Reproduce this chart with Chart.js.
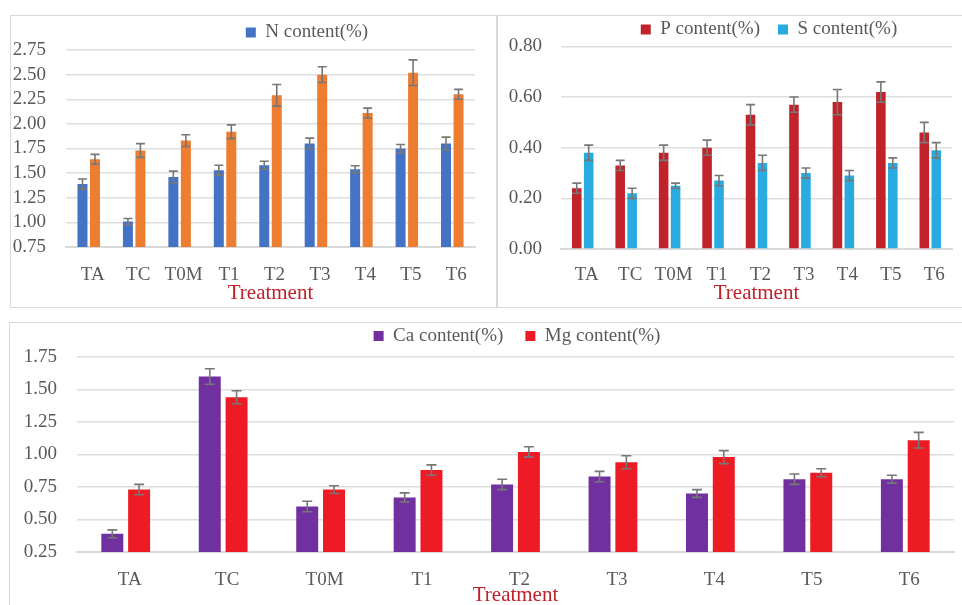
<!DOCTYPE html>
<html>
<head>
<meta charset="utf-8">
<script src="https://cdn.jsdelivr.net/npm/chart.js@4.4.0/dist/chart.umd.min.js"></script>
<style>
body { margin:0; width:962px; height:605px; overflow:hidden; background:#fff; position:relative; }
.panel { position:absolute; border:1px solid #d9d9d9; box-sizing:border-box; background:#fff; }
.panel canvas { position:absolute; left:0; top:0; }
</style>
</head>
<body>
<div class="panel" style="left:10px;top:15px;width:487px;height:293px"><canvas id="c1" width="485" height="291"></canvas></div>
<div class="panel" style="left:497px;top:15px;width:466px;height:293px"><canvas id="c2" width="464" height="291"></canvas></div>
<div class="panel" style="left:9px;top:322px;width:954px;height:290px"><canvas id="c3" width="952" height="282"></canvas></div>
<script>
var treatments = ['TA', 'TC', 'T0M', 'T1', 'T2', 'T3', 'T4', 'T5', 'T6'];

// N panel (second series has no legend entry in the original)
var nContent = [1.39, 1.01, 1.46, 1.53, 1.58, 1.80, 1.54, 1.75, 1.80];
var nError   = [0.05, 0.03, 0.06, 0.05, 0.04, 0.055, 0.035, 0.04, 0.065];
var nOther   = [1.64, 1.73, 1.83, 1.92, 2.29, 2.50, 2.11, 2.52, 2.30];
var nOtherError = [0.05, 0.07, 0.06, 0.07, 0.11, 0.08, 0.05, 0.13, 0.05];

// P and S panel
var pContent = [0.24, 0.33, 0.38, 0.40, 0.53, 0.57, 0.58, 0.62, 0.46];
var pError   = [0.02, 0.02, 0.03, 0.03, 0.04, 0.03, 0.05, 0.04, 0.04];
var sContent = [0.38, 0.22, 0.25, 0.27, 0.34, 0.30, 0.29, 0.34, 0.39];
var sError   = [0.03, 0.02, 0.01, 0.02, 0.03, 0.02, 0.02, 0.02, 0.03];

// Ca and Mg panel
var caContent = [0.39, 1.60, 0.60, 0.67, 0.77, 0.83, 0.70, 0.81, 0.81];
var caError   = [0.03, 0.06, 0.04, 0.035, 0.04, 0.04, 0.03, 0.04, 0.03];
var mgContent = [0.73, 1.44, 0.73, 0.88, 1.02, 0.94, 0.98, 0.86, 1.11];
var mgError   = [0.04, 0.05, 0.03, 0.04, 0.04, 0.05, 0.05, 0.03, 0.06];

var nAxis  = { min: 0.75, max: 2.75, step: 0.25 };
var psAxis = { min: 0.00, max: 0.80, step: 0.20 };
var cmAxis = { min: 0.25, max: 1.75, step: 0.25 };

var FONT = "'Liberation Serif', 'Times New Roman', serif";
var GREY = '#595959';
Chart.defaults.font.family = FONT;

// draws +/- error whiskers on every dataset that has an errors array
var errorBars = {
  id: 'errorBars',
  afterDatasetsDraw: function(chart, args, opts) {
    var ctx = chart.ctx, y = chart.scales.y;
    chart.data.datasets.forEach(function(ds, i) {
      if (!ds.errors) return;
      var meta = chart.getDatasetMeta(i);
      ctx.save();
      ctx.strokeStyle = '#777777';
      ctx.lineWidth = 1.6;
      meta.data.forEach(function(bar, j) {
        var v = ds.data[j], e = ds.errors[j];
        var top = y.getPixelForValue(v + e), bot = y.getPixelForValue(v - e);
        var h = opts.cap;
        ctx.beginPath();
        ctx.moveTo(bar.x, top); ctx.lineTo(bar.x, bot);
        ctx.moveTo(bar.x - h, top); ctx.lineTo(bar.x + h, top);
        ctx.moveTo(bar.x - h, bot); ctx.lineTo(bar.x + h, bot);
        ctx.stroke();
      });
      ctx.restore();
    });
  }
};

// fixes the legend height and moves it where Excel put it
var legendPlace = {
  id: 'legendPlace',
  beforeLayout: function(chart, args, opts) {
    var lg = chart.legend;
    if (lg && !lg.patched) {
      var fit = lg.fit;
      lg.fit = function() { fit.call(this); this.height = opts.height; };
      lg.patched = true;
    }
  },
  afterLayout: function(chart, args, opts) {
    var lg = chart.legend;
    var w = lg.right - lg.left;
    lg.left = opts.cx - w / 2; lg.right = opts.cx + w / 2;
    lg.top = opts.top; lg.bottom = opts.top + 80;
  }
};

function makeChart(id, sets, axis, L) {
  return new Chart(document.getElementById(id), {
    type: 'bar',
    data: { labels: treatments, datasets: sets },
    plugins: [errorBars, legendPlace],
    options: {
      responsive: false,
      animation: false,
      layout: { padding: { left: 0, right: L.padRight, top: 0, bottom: 0 } },
      datasets: { bar: { categoryPercentage: L.catPct, barPercentage: L.barPct, borderWidth: 0 } },
      plugins: {
        tooltip: { enabled: false },
        errorBars: { cap: L.cap },
        legendPlace: { height: L.legendH, cx: L.legendX, top: L.legendTop },
        legend: {
          position: 'top',
          labels: {
            font: { family: FONT, size: 19 },
            color: GREY,
            boxWidth: 10,
            boxHeight: 10,
            padding: L.legendGap,
            filter: function(item) { return item.text; }
          }
        }
      },
      scales: {
        x: {
          grid: { display: false },
          border: { display: true, color: '#d9d9d9', width: 2 },
          ticks: { font: { family: FONT, size: 19 }, color: GREY, padding: L.xPad, labelOffset: 4, autoSkip: false, maxRotation: 0, minRotation: 0 },
          title: { display: true, text: 'Treatment', color: '#c0202a', font: { family: FONT, size: 21 }, padding: { top: 0, bottom: L.titlePad } },
          afterFit: function(s) { s.height = L.xH; }
        },
        y: {
          min: axis.min, max: axis.max,
          grid: { color: '#dedede', lineWidth: 1.4, drawTicks: false },
          border: { display: false },
          ticks: {
            stepSize: axis.step, autoSkip: false,
            font: { family: FONT, size: 19 }, color: GREY, padding: L.yPad,
            callback: function(v) { return v.toFixed(2); }
          },
          afterFit: function(s) { s.width = L.yW; }
        }
      }
    }
  });
}

makeChart('c1', [
  { label: 'N content(%)', data: nContent, errors: nError, backgroundColor: '#4472c4' },
  { label: '', data: nOther, errors: nOtherError, backgroundColor: '#ed7d31' }
], nAxis, { padRight: 21, catPct: 0.55, barPct: 0.8, cap: 4.5, legendH: 34, legendX: 296, legendTop: -11, legendGap: 18, xPad: 9, xH: 60, titlePad: 1, yPad: 20, yW: 55 });

makeChart('c2', [
  { label: 'P content(%)', data: pContent, errors: pError, backgroundColor: '#c1232b' },
  { label: 'S content(%)', data: sContent, errors: sError, backgroundColor: '#29abe2' }
], psAxis, { padRight: 10, catPct: 0.55, barPct: 0.8, cap: 4.5, legendH: 30, legendX: 271, legendTop: -14, legendGap: 18, xPad: 7, xH: 58, titlePad: 1, yPad: 19, yW: 63 });

makeChart('c3', [
  { label: 'Ca content(%)', data: caContent, errors: caError, backgroundColor: '#7030a0' },
  { label: 'Mg content(%)', data: mgContent, errors: mgError, backgroundColor: '#ed1c24' }
], cmAxis, { padRight: 8, catPct: 0.55, barPct: 0.82, cap: 5, legendH: 34, legendX: 507, legendTop: -18.5, legendGap: 22, xPad: 9, xH: 53, titlePad: -3, yPad: 20, yW: 67 });
</script>
</body>
</html>
